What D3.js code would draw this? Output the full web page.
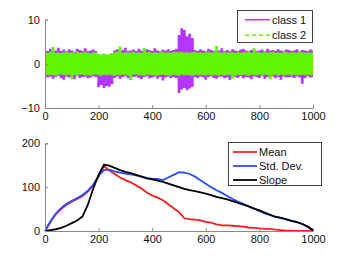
<!DOCTYPE html>
<html>
<head>
<meta charset="utf-8">
<style>
  body { margin: 0; background: #fff; }
  svg text { font-family: "Liberation Sans", Arial, sans-serif; font-size: 11px; fill: #111; }
</style>
</head>
<body>
<svg id="viz" width="346" height="260"></svg>
<script src="https://cdn.jsdelivr.net/npm/d3@7"></script>
<script>
// top panel: envelope of the two noisy signals, sampled every 10
var xTop = d3.range(0, 1001, 10);
var c1Hi = [3.1,2.9,3.4,2.8,3.0,3.6,2.9,3.2,2.8,3.3, 3.0,2.7,3.4,3.1,2.9,3.5,2.8,3.0,3.2,2.9,
  1.6,1.4,1.8,1.5,1.7,2.4,
  3.0,3.3,2.9,3.1,3.6,2.8,3.0,3.2,2.9,3.4, 3.0,2.8,3.3,3.1,2.9,3.5,3.0,2.8,3.2,3.0, 3.3,2.9,3.1,3.4,
  6.5,8.0,7.6,6.2,6.8,5.8,
  3.1,2.9,3.3,3.0,2.8,3.4,3.1,2.9,3.2,3.0, 3.5,2.9,3.1,2.8,3.3,3.0,2.9,3.2,3.4,3.0,
  2.8,3.1,3.3,2.9,3.0,3.2,2.8,3.4,3.0,3.1, 2.9,3.3,3.0,2.8,3.2,3.1,2.9,3.0,3.3,2.8, 3.1,3.0,2.9,3.2,3.0];
var c1Lo = [-2.8,-3.1,-2.9,-3.4,-3.0,-2.7,-3.3,-3.6,-2.9,-3.1, -3.0,-3.5,-2.8,-3.2,-3.0,-2.9,-3.3,-3.1,-2.8,-3.0,
  -5.3,-4.8,-5.5,-5.0,-5.2,-4.6,
  -3.2,-2.9,-3.4,-3.0,-2.8,-3.3,-3.7,-3.0,-2.9,-3.2, -3.5,-3.0,-2.8,-3.3,-3.1,-2.9,-3.4,-3.0,-3.8,-3.1, -2.9,-3.3,-3.0,-3.2,
  -6.6,-5.8,-5.5,-6.0,-5.6,-5.2,
  -3.0,-3.3,-2.9,-3.1,-3.6,-3.0,-2.8,-3.2,-3.4,-3.0, -2.9,-3.3,-3.1,-3.7,-2.9,-3.0,-3.2,-2.8,-3.3,-3.0,
  -3.1,-3.5,-2.9,-3.0,-3.2,-2.8,-3.4,-3.0,-3.1,-2.9, -3.3,-3.0,-3.6,-2.9,-3.1,-3.0,-3.0,-3.2,-2.9,-3.1, -4.5,-3.3,-2.8,-3.1,-3.0];
var c2Hi = [2.6,2.5,2.7,3.8,2.5,2.6,2.4,2.6,2.7,2.5, 2.6,2.5,2.7,2.5,2.6,2.7,2.5,2.4,2.6,2.6,
  2.2,2.1,2.3,2.1,2.2,2.4,
  2.6,2.7,3.9,2.5,2.6,2.5,2.6,2.7,2.5,2.6, 2.5,3.6,2.6,2.7,2.5,2.6,2.5,2.6,2.7,2.5, 2.6,2.5,2.6,2.7,
  2.6,2.7,2.5,2.6,2.5,2.6,
  2.7,2.5,2.6,2.5,2.6,2.7,2.5,2.6,4.0,2.6, 2.5,2.7,2.5,2.6,2.6,2.5,2.7,2.5,2.6,2.6,
  2.7,2.5,3.5,2.6,2.6,2.5,2.7,2.5,2.6,2.7, 2.5,2.6,2.5,2.6,2.7,2.5,2.6,2.6,2.5,2.7, 2.6,2.5,2.6,2.5,2.6];
var c2Lo = [-2.5,-2.6,-2.5,-2.6,-2.7,-2.5,-2.4,-2.6,-2.6,-2.5, -3.5,-2.6,-2.7,-2.5,-2.5,-2.6,-2.6,-2.7,-2.5,-2.5,
  -2.6,-2.7,-2.5,-2.6,-2.5,-2.6,
  -2.7,-2.5,-2.6,-2.5,-2.6,-2.7,-3.6,-2.5,-2.5,-2.6, -2.6,-2.7,-2.5,-2.5,-2.6,-2.6,-2.7,-2.5,-2.5,-2.6, -2.6,-2.7,-2.5,-2.6,
  -2.7,-2.5,-2.6,-2.5,-2.6,-2.7,
  -2.5,-2.6,-2.5,-2.6,-2.7,-2.5,-2.6,-2.5,-2.6,-2.7, -2.5,-2.6,-2.6,-2.5,-3.4,-2.7,-2.5,-2.6,-2.5,-2.6,
  -2.7,-2.5,-2.6,-2.6,-2.5,-2.7,-2.5,-2.6,-3.5,-2.6, -2.5,-2.7,-2.5,-2.6,-2.6,-2.5,-2.7,-2.5,-2.6,-2.6, -2.5,-2.6,-2.5,-2.6,-2.5];

// bottom panel: three curves sampled every 20
var xBot = d3.range(0, 1001, 20);
var meanVals = [0,20,38,50,60,67,73,80,90,104,124,148,138,130,122,116,111,104,97,88,
  81,76,70,61,52,43,29,27,26,24,21,19,15,13,13,12,11,10,8,7,6,5,5,3,2,1,1,0.5,0,0,0];
var stdVals = [0,22,40,52,62,69,75,82,92,106,126,139,140,136,133,131,129,127,124,121,
  119,119,116,122,128,134,133,130,124,116,108,100,93,87,80,73,67,62,56,51,46,40,36,33,30,26,23,20,16,10,2];
var slopeVals = [0,2,4,7,12,18,24,33,60,97,128,151,149,144,139,135,132,128,124,120,
  118,115,112,108,104,100,96,93,91,88,85,82,78,75,72,68,64,60,56,51,47,42,37,32,30,27,23,20,16,10,1];

var xTicks = [0, 200, 400, 600, 800, 1000];
var topTicks = [-10, 0, 10];
var botTicks = [0, 100, 200];

var topSeries = [
  {name: "class 1", color: "#b636ff", hi: c1Hi, lo: c1Lo, dash: null},
  {name: "class 2", color: "#62f500", hi: c2Hi, lo: c2Lo, dash: "4,3"}
];
var botSeries = [
  {name: "Mean", color: "#ff1a1a", vals: meanVals},
  {name: "Std. Dev.", color: "#2a4cff", vals: stdVals},
  {name: "Slope", color: "#000000", vals: slopeVals}
];

var svg = d3.select("#viz");
var x = d3.scaleLinear().domain([0, 1000]).range([45, 313]);
var yTop = d3.scaleLinear().domain([-10, 10]).range([108, 19.5]);
var yBot = d3.scaleLinear().domain([0, 200]).range([231, 143.3]);

function axes(y, ticks) {
  var bottom = y.range()[0];
  svg.append("g")
    .attr("transform", `translate(0,${bottom})`)
    .call(d3.axisBottom(x).tickValues(xTicks).tickSize(-3).tickPadding(4).tickFormat(d3.format("d")))
    .call(g => g.select(".domain").attr("stroke", "#888"))
    .call(g => g.selectAll(".tick line").attr("stroke", "#888"));
  svg.append("g")
    .attr("transform", `translate(${x(0)},0)`)
    .call(d3.axisLeft(y).tickValues(ticks).tickSize(-3).tickPadding(5).tickFormat(d => d < 0 ? "\u2212" + Math.abs(d) : d))
    .call(g => g.select(".domain").attr("stroke", "#888"))
    .call(g => g.selectAll(".tick line").attr("stroke", "#888"));
  svg.selectAll(".tick text").attr("fill", "#111").style("font-size", "11px");
}

// top panel
topSeries.forEach(function(s) {
  var area = d3.area()
    .curve(d3.curveStep)
    .x((d, i) => x(xTop[i]))
    .y0((d, i) => yTop(s.lo[i]))
    .y1((d, i) => yTop(s.hi[i]));
  svg.append("path")
    .datum(xTop)
    .attr("d", area)
    .attr("fill", s.color);
});
axes(yTop, topTicks);

// top legend
var lg1 = svg.append("g");
lg1.append("rect").attr("x", 237.5).attr("y", 10.5).attr("width", 75).attr("height", 32)
  .attr("fill", "#fff").attr("stroke", "#444").attr("stroke-width", 1);
topSeries.forEach(function(s, i) {
  var yy = 19.7 + i * 15.6;
  lg1.append("line").attr("x1", 245).attr("x2", 270).attr("y1", yy).attr("y2", yy)
    .attr("stroke", s.color).attr("stroke-width", 1.5).attr("stroke-dasharray", s.dash);
  lg1.append("text").attr("x", 272).attr("y", yy + 4).text(s.name);
});

// bottom panel
botSeries.forEach(function(s) {
  var line = d3.line()
    .x((d, i) => x(xBot[i]))
    .y(d => yBot(d));
  svg.append("path")
    .datum(s.vals)
    .attr("d", line)
    .attr("fill", "none")
    .attr("stroke", s.color)
    .attr("stroke-width", 1.8);
});
axes(yBot, botTicks);

// bottom legend
var lg2 = svg.append("g");
lg2.append("rect").attr("x", 228.5).attr("y", 142.5).attr("width", 93).attr("height", 43)
  .attr("fill", "#fff").attr("stroke", "#444").attr("stroke-width", 1);
botSeries.forEach(function(s, i) {
  var yy = 152 + i * 14;
  lg2.append("line").attr("x1", 233).attr("x2", 257).attr("y1", yy).attr("y2", yy)
    .attr("stroke", s.color).attr("stroke-width", 1.8);
  lg2.append("text").attr("x", 259).attr("y", yy + 4).text(s.name);
});
</script>
</body>
</html>
